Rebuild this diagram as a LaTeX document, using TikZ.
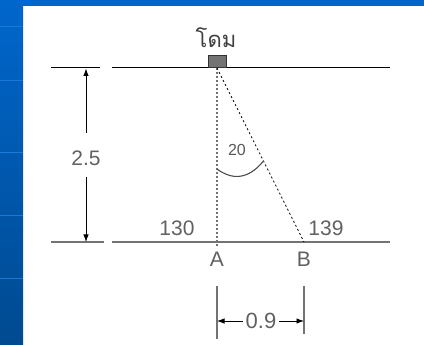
\documentclass[tikz,border=0pt]{standalone}
\usepackage{fontspec}
\setmainfont{Liberation Sans}
\newfontfamily\thaifont[Script=Thai]{Loma}
\usetikzlibrary{arrows.meta}
\definecolor{bandtop}{HTML}{0066CC}
\definecolor{bandbot}{HTML}{004A90}
\definecolor{bandline}{HTML}{1A78D8}
\begin{document}
\begin{tikzpicture}[x=1pt,y=-1pt,
  lbl/.style={font=\fontsize{21}{21}\selectfont, text=black!62, inner sep=0pt},
  small/.style={font=\fontsize{16}{16}\selectfont, text=black!65, inner sep=0pt},
  dimline/.style={line width=0.9pt, draw=black, -{Latex[length=7.5pt,width=5.5pt]}},
  extline/.style={line width=1.3pt, draw=black!55},
  ground/.style={line width=1pt, draw=black},
  base/.style={line width=1.4pt, draw=black!55}]
\useasboundingbox (0,0) rectangle (424,345);
% slide background
\fill[white] (0,0) rectangle (424,345);
\shade[top color=bandtop, bottom color=bandbot] (0,0) rectangle (23,345);
\fill[bandtop] (0,0) rectangle (424,6);
\foreach \yy in {26,80,152,215,278}
  \draw[bandline, line width=0.8pt] (0,\yy) -- (23,\yy);
% key points
\coordinate (T) at (217,68);
\coordinate (A) at (217,242);
\coordinate (B) at (304,242);
% ground lines
\draw[ground] (51,68) -- (100,68);
\draw[ground] (112,68) -- (390,68);
\draw[base] (51,242) -- (104,242);
\draw[base] (112,242) -- (390,242);
% dome
\node[draw=black!80, line width=0.8pt, fill=black!55, minimum width=18pt, minimum height=12pt, inner sep=0pt, anchor=south] (dome) at (T) {};
\node[font=\thaifont\fontsize{22}{22}\selectfont, text=black!75, inner sep=0pt] (name) at (216,38) {โดม};
% sight lines
\draw[black!55, line width=1.5pt, dash pattern=on 2pt off 2pt] (T) -- (217,246);
\draw[black, line width=0.8pt, dash pattern=on 2pt off 2.5pt] (T) -- (B);
% angle
\draw[black!70, line width=1.1pt] (217,169) .. controls (232,180) and (248,180) .. (263.5,161);
\node[small] (ang) at (237,150) {20};
% height dimension
\node[lbl] (h) at (86,158) {2.5};
\coordinate (h1) at (86,133);
\coordinate (h2) at (86,177);
\draw[dimline] (h1) -- (86,68.5);
\draw[dimline] (h2) -- (86,242);
% readings and points
\node[lbl] (ra) at (177,228) {130};
\node[lbl] (rb) at (326,228) {139};
\node[lbl] (la) at (217,259) {A};
\node[lbl] (lb) at (304,259) {B};
% horizontal dimension
\draw[extline] (217,286) -- (217,339);
\draw[extline] (304,286) -- (304,334);
\node[lbl, font=\fontsize{22}{22}\selectfont, inner xsep=3pt] (w) at (261,321) {0.9};
\draw[dimline] (w.west) -- (w.west -| A);
\draw[dimline] (w.east) -- (w.east -| B);
\end{tikzpicture}
\end{document}
